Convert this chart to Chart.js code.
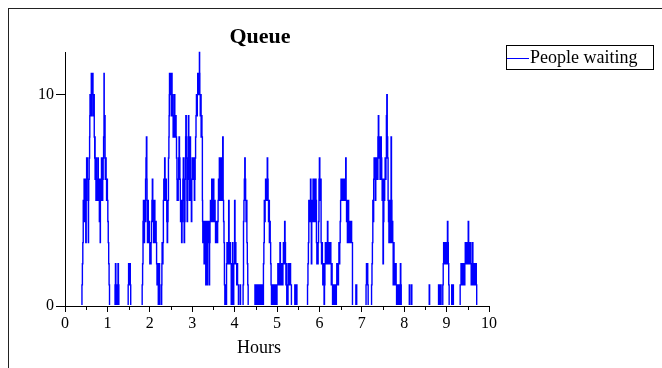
<!DOCTYPE html>
<html>
<head>
<meta charset="utf-8">
<script src="https://cdn.jsdelivr.net/npm/chart.js@4/dist/chart.umd.min.js"></script>
<style>
  html, body { margin: 0; padding: 0; background: #fff; overflow: hidden; }
  #wrap { position: relative; width: 662px; height: 368px; }
  #frame { position: absolute; left: 8px; top: 8px; width: 700px; height: 400px; border: 1px solid #222; }
  #queueChart { position: absolute; left: 0; top: 0; }
  #legend { position: absolute; left: 506px; top: 45px; width: 146px; height: 23px; border: 1px solid #000;
            font-family: "Liberation Serif", "Times New Roman", serif; font-size: 18px; line-height: 23px; }
  #legend .swatch { position: absolute; left: 0; top: 12px; width: 22px; height: 1px; background: #0000ff; }
  #legend .label { position: absolute; left: 23px; top: 0; }
</style>
</head>
<body>
<div id="wrap">
  <div id="frame"></div>
  <canvas id="queueChart" width="662" height="368"></canvas>
  <div id="legend"><span class="swatch"></span><span class="label">People waiting</span></div>
</div>
<script>
// time of each change (hours) and the queue length from that moment on
const hours = [
  0,
  0.40, 0.41, 0.42, 0.43, 0.435, 0.44, 0.45, 0.455, 0.46, 0.47, 0.475, 0.48, 0.49, 0.50, 0.505, 0.51, 0.52, 0.525, 0.53, 0.54, 0.545, 0.55, 0.555, 0.56, 0.57, 0.58, 0.585, 0.59, 0.595, 0.60, 0.605, 0.61, 0.62, 0.625, 0.63, 0.635, 0.64, 0.645, 0.65, 0.66, 0.67, 0.68, 0.69, 0.70, 0.705, 0.71, 0.72, 0.725, 0.73, 0.735, 0.74, 0.745, 0.75, 0.76, 0.765, 0.77, 0.78, 0.785, 0.79, 0.80, 0.81, 0.82, 0.825, 0.83, 0.835, 0.84, 0.85, 0.86, 0.87, 0.88, 0.89, 0.90, 0.91, 0.92, 0.925, 0.93, 0.94, 0.945, 0.95, 0.96, 0.97, 0.98, 0.99, 1.00, 1.01, 1.02, 1.03, 1.04, 1.05,
  1.18, 1.19, 1.20, 1.21, 1.24, 1.25, 1.26, 1.27, 1.49, 1.50, 1.51, 1.53, 1.54, 1.55,
  1.82, 1.83, 1.84, 1.85, 1.855, 1.86, 1.87, 1.875, 1.88, 1.89, 1.90, 1.91, 1.92, 1.93, 1.935, 1.94, 1.945, 1.95, 1.96, 1.965, 1.97, 1.98, 1.99, 2.00, 2.01, 2.02, 2.03, 2.04, 2.05, 2.06, 2.07, 2.075, 2.08, 2.09, 2.10, 2.11, 2.12, 2.13, 2.14, 2.15, 2.16, 2.17, 2.18, 2.19, 2.20, 2.21, 2.22, 2.23, 2.24,
  2.28, 2.285, 2.29, 2.30, 2.31, 2.32, 2.33, 2.335, 2.34, 2.35, 2.36, 2.37, 2.38, 2.39, 2.40, 2.41, 2.42, 2.43, 2.44, 2.45, 2.455, 2.46, 2.465, 2.47, 2.475, 2.48, 2.49, 2.50, 2.505, 2.51, 2.52, 2.525, 2.53, 2.54, 2.545, 2.55, 2.56, 2.565, 2.57, 2.58, 2.59, 2.60, 2.61, 2.62, 2.63, 2.64, 2.645, 2.65, 2.66, 2.67, 2.68, 2.69, 2.70, 2.71, 2.72, 2.725, 2.73, 2.74, 2.75, 2.76, 2.77, 2.78, 2.79, 2.80, 2.805, 2.81, 2.82, 2.83, 2.84, 2.845, 2.85, 2.86, 2.87, 2.875, 2.88, 2.89, 2.90, 2.91, 2.92, 2.93, 2.94, 2.95, 2.96, 2.97, 2.98, 2.99, 3.00, 3.01, 3.02, 3.03, 3.04, 3.05, 3.06, 3.07, 3.08, 3.09, 3.10, 3.11, 3.12, 3.13, 3.135, 3.14, 3.15, 3.16, 3.17, 3.175, 3.18, 3.19, 3.20, 3.21, 3.22, 3.23, 3.24, 3.245, 3.25, 3.26, 3.27, 3.28, 3.29,
  3.30, 3.31, 3.32, 3.325, 3.33, 3.34, 3.35, 3.36, 3.37, 3.38, 3.39, 3.40, 3.41, 3.42, 3.43, 3.44, 3.45, 3.46, 3.47, 3.48, 3.49, 3.50, 3.51, 3.52, 3.53, 3.54, 3.55, 3.56, 3.57, 3.58, 3.59, 3.60, 3.61, 3.62, 3.63, 3.64, 3.65, 3.66, 3.67, 3.68, 3.69, 3.70, 3.71, 3.72, 3.73, 3.74, 3.75, 3.76, 3.77, 3.79, 3.80, 3.81, 3.82, 3.83, 3.84, 3.85, 3.86, 3.87, 3.88, 3.89, 3.90, 3.92, 3.95, 3.96, 3.98, 4.00, 4.01, 4.02, 4.03, 4.05, 4.06, 4.07, 4.09, 4.13, 4.14, 4.20, 4.21, 4.22, 4.23, 4.24, 4.25, 4.26, 4.27, 4.28, 4.29, 4.30, 4.31, 4.32,
  4.48, 4.49, 4.50, 4.52, 4.53, 4.55, 4.57, 4.58, 4.60, 4.62, 4.64, 4.66, 4.68, 4.69, 4.70, 4.71, 4.72, 4.73, 4.74, 4.75, 4.76, 4.77, 4.78, 4.79, 4.80, 4.81, 4.82, 4.83, 4.84, 4.85, 4.86, 4.87, 4.88, 4.89, 4.90, 4.92, 4.93, 4.95, 4.96, 4.98, 5.00, 5.02, 5.03, 5.04, 5.05, 5.06, 5.07, 5.08, 5.09, 5.10, 5.11, 5.12, 5.13, 5.14, 5.15, 5.16, 5.17, 5.18, 5.19, 5.20, 5.21, 5.22, 5.23, 5.26, 5.27, 5.28, 5.29, 5.30, 5.31, 5.32, 5.34, 5.42, 5.44, 5.46, 5.47,
  5.72, 5.73, 5.74, 5.75, 5.76, 5.77, 5.78, 5.79, 5.80, 5.81, 5.82, 5.83, 5.84, 5.85, 5.86, 5.87, 5.88, 5.89, 5.90, 5.91, 5.92, 5.93, 5.94, 5.95, 5.96, 5.97, 5.98, 5.99, 6.00, 6.01, 6.02, 6.03, 6.04, 6.05, 6.06, 6.07, 6.08, 6.09, 6.10, 6.11, 6.12, 6.13, 6.14, 6.15, 6.16, 6.17, 6.18, 6.19, 6.20, 6.21, 6.22, 6.23, 6.24, 6.25, 6.26, 6.27, 6.28, 6.29, 6.30, 6.31, 6.33, 6.34, 6.36, 6.37, 6.40, 6.41, 6.42, 6.43, 6.44, 6.45, 6.46, 6.47, 6.48, 6.49, 6.50, 6.51, 6.52, 6.53, 6.54, 6.55, 6.56, 6.57, 6.58, 6.59, 6.60, 6.61, 6.62, 6.63, 6.64, 6.65, 6.66, 6.67, 6.68, 6.69, 6.70, 6.71, 6.72, 6.74, 6.76, 6.78, 6.86, 6.88,
  7.10, 7.11, 7.12, 7.13, 7.14, 7.15, 7.23, 7.24, 7.25, 7.26, 7.27, 7.28, 7.29, 7.30, 7.31, 7.32, 7.33, 7.34, 7.35, 7.36, 7.37, 7.38, 7.39, 7.40, 7.41, 7.42, 7.43, 7.44, 7.45, 7.46, 7.47, 7.48, 7.49, 7.50, 7.51, 7.52, 7.53, 7.54, 7.55, 7.56, 7.57, 7.58, 7.59, 7.60, 7.61, 7.62, 7.63, 7.64, 7.65, 7.66, 7.67, 7.68, 7.69, 7.70, 7.71, 7.72, 7.73, 7.74, 7.75, 7.76, 7.77, 7.78, 7.79, 7.80, 7.81, 7.82, 7.83, 7.84, 7.85, 7.86, 7.87, 7.88, 7.90, 7.91, 7.92, 7.93,
  8.12, 8.13, 8.17, 8.18, 8.59, 8.60, 8.81, 8.82, 8.83, 8.84, 8.86, 8.87, 8.91, 8.92, 8.93, 8.94, 8.95, 8.96, 8.97, 8.98, 8.99, 9.00, 9.01, 9.02, 9.03, 9.04, 9.05, 9.06, 9.12, 9.13, 9.15, 9.16,
  9.32, 9.34, 9.35, 9.37, 9.38, 9.40, 9.41, 9.43, 9.44, 9.45, 9.47, 9.48, 9.50, 9.51, 9.52, 9.53, 9.54, 9.56, 9.57, 9.58, 9.60, 9.61, 9.62, 9.64, 9.66, 9.68, 9.70, 9.71
];
const waiting = [
  0,
  1, 2, 3, 5, 4, 5, 6, 5, 4, 5, 6, 4, 3, 5, 6, 7, 6, 7, 6, 5, 6, 3, 5, 6, 7, 8, 9, 10, 9, 10, 9, 10, 11, 10, 9, 10, 11, 10, 11, 10, 9, 10, 8, 7, 8, 6, 7, 6, 5, 6, 7, 6, 5, 6, 5, 6, 7, 6, 5, 6, 4, 5, 4, 3, 5, 6, 5, 7, 6, 5, 6, 7, 8, 11, 9, 8, 9, 7, 6, 7, 6, 5, 6, 5, 4, 3, 2, 1, 0,
  1, 2, 1, 0, 1, 2, 1, 0, 1, 2, 1, 2, 1, 0,
  1, 2, 4, 5, 4, 5, 3, 4, 5, 4, 6, 7, 8, 6, 5, 4, 3, 4, 5, 4, 3, 4, 3, 2, 3, 2, 3, 4, 5, 6, 5, 4, 5, 3, 4, 5, 4, 3, 4, 3, 2, 1, 2, 1, 0, 1, 2, 1, 0,
  1, 2, 3, 2, 3, 5, 6, 5, 6, 7, 6, 5, 6, 5, 4, 3, 4, 5, 7, 8, 9, 10, 11, 10, 11, 10, 11, 10, 9, 10, 11, 10, 9, 10, 9, 8, 9, 8, 9, 10, 9, 8, 9, 8, 7, 6, 5, 6, 5, 6, 7, 8, 7, 6, 5, 4, 5, 4, 3, 4, 5, 6, 7, 5, 4, 3, 4, 6, 7, 8, 9, 8, 7, 5, 4, 5, 7, 9, 8, 6, 5, 8, 6, 5, 4, 6, 7, 6, 7, 6, 7, 5, 6, 7, 8, 9, 10, 9, 10, 11, 10, 11, 10, 11, 12, 11, 10, 9, 10, 8, 9, 8, 5, 4, 3, 4, 3, 2, 3,
  4, 3, 1, 3, 4, 3, 1, 3, 4, 3, 4, 1, 3, 4, 5, 4, 5, 6, 5, 4, 5, 6, 5, 4, 5, 4, 3, 4, 3, 4, 3, 4, 5, 6, 5, 7, 6, 5, 6, 7, 6, 5, 7, 8, 5, 4, 3, 1, 0, 1, 0, 2, 3, 2, 3, 2, 5, 3, 2, 3, 2, 0, 3, 0, 2, 5, 2, 3, 2, 1, 2, 1, 0, 1, 0, 1, 4, 5, 6, 7, 6, 5, 4, 5, 3, 2, 1, 0,
  1, 0, 1, 0, 1, 0, 1, 0, 1, 0, 1, 0, 2, 3, 5, 4, 5, 6, 5, 6, 5, 7, 6, 5, 4, 5, 3, 4, 3, 2, 1, 0, 1, 0, 1, 0, 1, 0, 1, 0, 1, 2, 1, 2, 1, 2, 3, 2, 1, 2, 1, 2, 1, 2, 3, 2, 3, 4, 3, 2, 1, 2, 0, 1, 2, 1, 2, 1, 2, 1, 0, 1, 0, 1, 0,
  1, 2, 3, 5, 4, 5, 4, 6, 4, 2, 4, 5, 4, 6, 5, 4, 6, 5, 4, 6, 5, 3, 2, 3, 2, 3, 4, 6, 7, 6, 5, 6, 3, 2, 3, 2, 1, 2, 1, 0, 1, 2, 3, 2, 3, 2, 3, 4, 3, 2, 3, 2, 3, 2, 3, 2, 1, 2, 1, 0, 1, 0, 1, 0, 1, 2, 1, 2, 1, 2, 3, 2, 3, 4, 5, 6, 5, 6, 5, 6, 5, 6, 5, 6, 5, 6, 7, 5, 4, 5, 3, 4, 5, 4, 3, 4, 3, 4, 3, 0, 1, 0,
  1, 2, 1, 2, 1, 0, 1, 2, 3, 5, 4, 6, 7, 6, 7, 5, 6, 7, 6, 7, 6, 8, 9, 7, 8, 7, 6, 7, 8, 7, 6, 5, 6, 2, 4, 6, 5, 6, 7, 6, 7, 9, 10, 8, 7, 5, 4, 3, 4, 5, 3, 4, 8, 5, 3, 4, 3, 1, 3, 2, 1, 2, 1, 2, 1, 0, 1, 0, 1, 0, 1, 0, 1, 2, 1, 0,
  1, 0, 1, 0, 1, 0, 1, 0, 1, 0, 1, 0, 1, 2, 3, 2, 3, 2, 3, 2, 3, 2, 3, 4, 3, 2, 1, 0, 1, 0, 1, 0,
  1, 2, 1, 2, 1, 2, 1, 2, 3, 2, 3, 2, 3, 4, 2, 3, 2, 3, 2, 1, 2, 3, 1, 2, 1, 2, 1, 0
];
const xTicks = [0, 1, 2, 3, 4, 5, 6, 7, 8, 9, 10];
const yTicks = [0, 10];
const xTitle = 'Hours';

const serif = '"Liberation Serif", "Times New Roman", serif';

// half-hour marks under the x axis, plus the axis title (sits left of centre in the original)
const axisExtras = {
  id: 'axisExtras',
  afterDraw(chart) {
    const x = chart.scales.x;
    const ctx = chart.ctx;
    ctx.save();
    ctx.strokeStyle = '#000';
    ctx.lineWidth = 1;
    for (let v = 0.5; v < 10; v += 1) {
      const px = Math.round(x.getPixelForValue(v)) + 0.5;
      ctx.beginPath();
      ctx.moveTo(px, x.top);
      ctx.lineTo(px, x.top + 4);
      ctx.stroke();
    }
    ctx.fillStyle = '#000';
    ctx.font = '18px ' + serif;
    ctx.textAlign = 'center';
    ctx.textBaseline = 'middle';
    ctx.fillText(xTitle, 259, 348);
    ctx.restore();
  }
};

const points = hours.map((h, i) => ({ x: h, y: waiting[i] }));

new Chart(document.getElementById('queueChart'), {
  type: 'line',
  data: {
    datasets: [{
      label: 'People waiting',
      data: points,
      borderColor: '#0000ff',
      borderWidth: 1.4,
      pointRadius: 0,
      stepped: 'before',
      fill: false,
      clip: { left: 0, top: 5, right: 0, bottom: -1 }
    }]
  },
  options: {
    responsive: false,
    animation: false,
    layout: { padding: { left: 31, right: 173, top: 21, bottom: 9 } },
    plugins: {
      legend: { display: false },
      tooltip: { enabled: false },
      title: {
        display: true,
        text: 'Queue',
        color: '#000',
        font: { family: serif, size: 22, weight: 'bold' },
        padding: { top: 3, bottom: 2 }
      }
    },
    scales: {
      x: {
        type: 'linear',
        min: 0,
        max: 10,
        z: 1,
        afterBuildTicks: s => { s.ticks = xTicks.map(v => ({ value: v })); },
        afterFit: s => { s.height = 53; },
        ticks: { color: '#000', font: { family: serif, size: 16 }, padding: 2, maxRotation: 0 },
        grid: { drawOnChartArea: false, drawTicks: true, tickLength: 6, tickColor: '#000' },
        border: { display: true, color: '#000' }
      },
      y: {
        min: 0,
        max: 12,
        afterBuildTicks: s => { s.ticks = yTicks.map(v => ({ value: v })); },
        afterFit: s => { s.width = 34; },
        ticks: { color: '#000', font: { family: serif, size: 16 }, padding: 2 },
        grid: { drawOnChartArea: false, drawTicks: true, tickLength: 9, tickColor: '#000' },
        border: { display: true, color: '#000' }
      }
    }
  },
  plugins: [axisExtras]
});
</script>
</body>
</html>
